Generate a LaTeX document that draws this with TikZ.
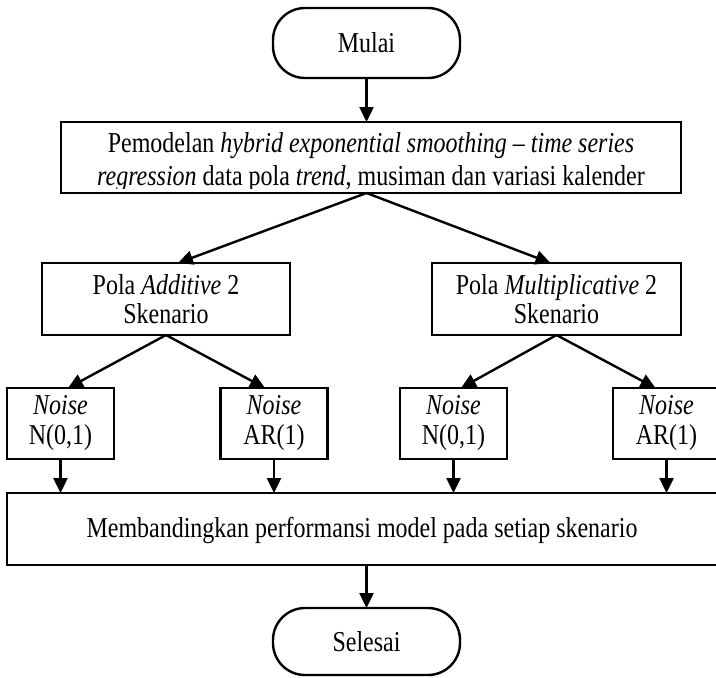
\documentclass[tikz,border=0pt]{standalone}
\usepackage{fontspec}
\setmainfont{Liberation Serif}[FakeStretch=0.833]
\usetikzlibrary{arrows.meta,calc}
\begin{document}
\begin{tikzpicture}[x=0.5pt,y=-0.5pt,
  txt/.style={font=\fontsize{14.4}{15}\selectfont,align=center},
  box/.style={draw,line width=1.2pt,inner sep=0pt,outer sep=0pt,txt},
  term/.style={box,rounded corners=16pt},
  arr/.style={line width=1.2pt,-{Triangle[length=7.5pt,width=7pt]}}]
\useasboundingbox (0,0) rectangle (716,677);
\node[term,minimum width=93.5pt,minimum height=35pt] (mulai) at (366.5,43) {Mulai};
\node[box,minimum width=310pt,minimum height=35.5pt] (b1) at (371,157.5) {};
\begin{scope}
\clip (b1.north west) rectangle (b1.east |- 0,188);
\node[txt,font=\fontsize{14.4}{16.5}\selectfont,inner sep=0pt,anchor=base] (b1t) at (371,185.5)
  {Pemodelan \textit{hybrid exponential smoothing – time series}\\
   \textit{regression} data pola \textit{trend}, musiman dan variasi kalender};
\end{scope}
\draw[line width=1.2pt] (b1.south west) rectangle (b1.north east);
\node[box,font=\fontsize{14.4}{14.5}\selectfont,minimum width=124pt,minimum height=36pt] (pa) at (166,299) {Pola \textit{Additive} 2\\Skenario};
\node[box,font=\fontsize{14.4}{14.5}\selectfont,minimum width=124.5pt,minimum height=36pt] (pm) at (556.5,299) {Pola \textit{Multiplicative} 2\\Skenario};
\node[box,minimum width=53.5pt,minimum height=35.5pt] (n1) at (60.5,423.5) {\textit{Noise}\\N(0,1)};
\node[box,minimum width=53.5pt,minimum height=35.5pt] (n2) at (274,423.5) {\textit{Noise}\\AR(1)};
\node[box,minimum width=53.5pt,minimum height=35.5pt] (n3) at (453.5,423.5) {\textit{Noise}\\N(0,1)};
\node[box,minimum width=53.5pt,minimum height=35.5pt] (n4) at (666.5,423.5) {\textit{Noise}\\AR(1)};
\node[box,minimum width=357.5pt,minimum height=36pt] (big) at (364.5,529) {};
\node[txt,inner sep=0pt] (bigt) at (362,530) {Membandingkan performansi model pada setiap skenario};
\node[term,minimum width=93.5pt,minimum height=33.5pt] (selesai) at (366.5,641.5) {Selesai};
\draw[arr] (mulai.south) -- (mulai.south |- b1.north);
\draw[arr] (b1.south -| mulai.south) -- ($(pa.north)+(12,0)$);
\draw[arr] (b1.south -| mulai.south) -- ($(pm.north)+(-6,0)$);
\draw[arr] (pa.south) -- ($(n1.north)+(7.5,0)$);
\draw[arr] (pa.south) -- ($(n2.north)+(-9,0)$);
\draw[arr] (pm.south) -- ($(n3.north)+(7.5,0)$);
\draw[arr] (pm.south) -- ($(n4.north)+(-11,0)$);
\foreach \n in {n1,n2,n3,n4} \draw[arr] (\n.south) -- (\n.south |- big.north);
\draw[arr] (selesai.north |- big.south) -- (selesai.north);
\end{tikzpicture}
\end{document}
